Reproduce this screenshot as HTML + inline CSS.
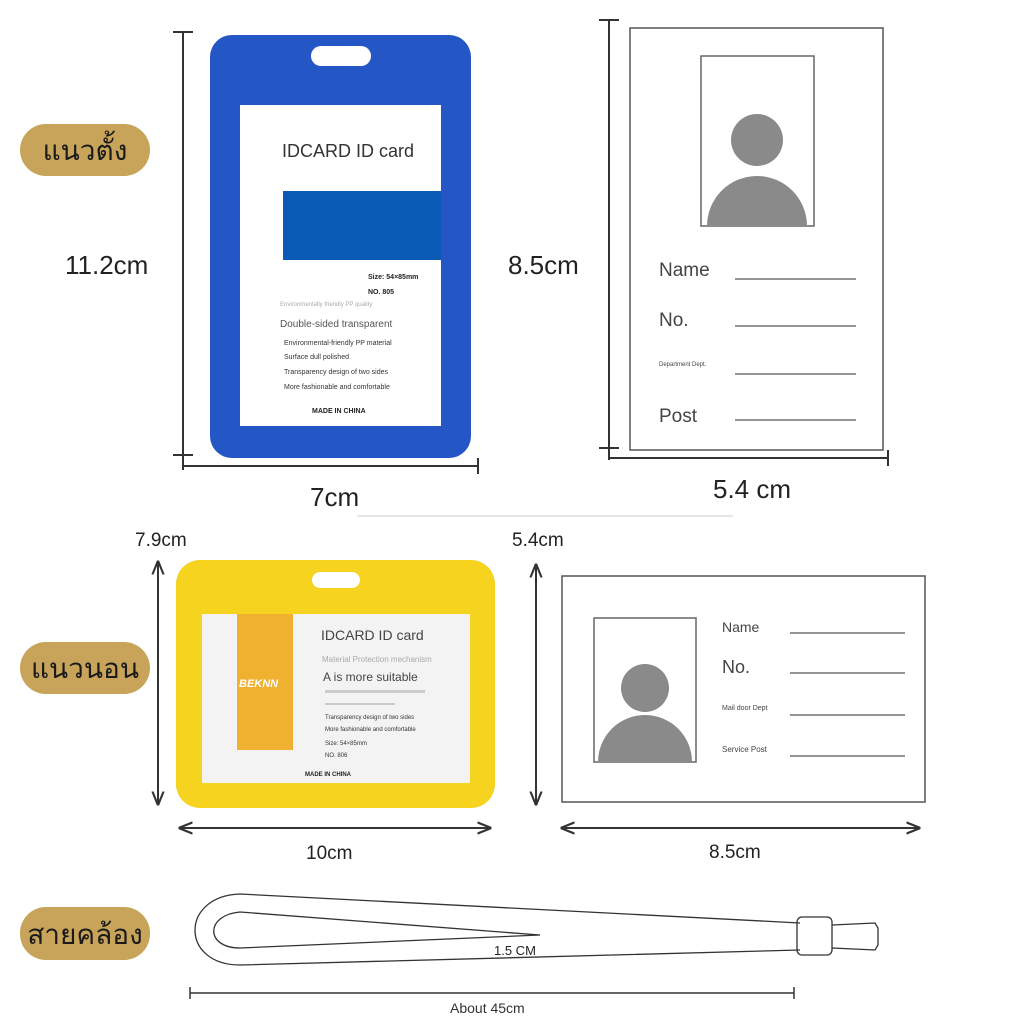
<!DOCTYPE html>
<html><head><meta charset="utf-8"><style>
body{margin:0;background:#fff}
svg text{font-family:"Liberation Sans","Noto Sans CJK SC",sans-serif}
</style></head><body>
<svg width="1024" height="1024" viewBox="0 0 1024 1024" xmlns="http://www.w3.org/2000/svg">
<defs>
<marker id="a" viewBox="0 0 10 10" refX="9" refY="5" markerWidth="7" markerHeight="7" orient="auto-start-reverse"><path d="M0,1 L10,5 L0,9" fill="none" stroke="#333" stroke-width="1.5"/></marker>
</defs>
<rect width="1024" height="1024" fill="#fff"/>
<!-- pills -->
<rect x="20" y="124" width="130" height="52" rx="26" fill="#c8a45a"/>
<text x="85" y="160" font-size="28" text-anchor="middle" fill="#1a1a1a">แนวตั้ง</text>
<rect x="20" y="642" width="130" height="52" rx="26" fill="#c8a45a"/>
<text x="85" y="678" font-size="28" text-anchor="middle" fill="#1a1a1a">แนวนอน</text>
<rect x="20" y="907" width="130" height="53" rx="26" fill="#c8a45a"/>
<text x="85" y="944" font-size="28" text-anchor="middle" fill="#1a1a1a">สายคล้อง</text>

<!-- blue card -->
<g stroke="#333" stroke-width="2" fill="none">
<line x1="183" y1="32" x2="183" y2="470"/><line x1="173" y1="32" x2="193" y2="32"/><line x1="173" y1="455" x2="193" y2="455"/>
<line x1="183" y1="466" x2="478" y2="466"/><line x1="478" y1="458" x2="478" y2="474"/>
<line x1="609" y1="20" x2="609" y2="460"/><line x1="599" y1="20" x2="619" y2="20"/><line x1="599" y1="448" x2="619" y2="448"/>
<line x1="609" y1="458" x2="888" y2="458"/><line x1="888" y1="450" x2="888" y2="466"/>
</g>
<rect x="210" y="35" width="261" height="423" rx="22" fill="#2457c5"/>
<rect x="311" y="46" width="60" height="20" rx="10" fill="#fff"/>
<rect x="240" y="105" width="201" height="321" fill="#fff"/>
<rect x="283" y="191" width="158" height="69" fill="#0a5bb5"/>
<text x="282" y="157" font-size="18" fill="#333">IDCARD ID card</text>
<text x="368" y="279" font-size="7" fill="#222" font-weight="bold">Size: 54×85mm</text>
<text x="368" y="294" font-size="7" fill="#222" font-weight="bold">NO. 805</text>
<text x="280" y="306" font-size="6" fill="#aaa">Environmentally friendly PP quality</text>
<text x="280" y="327" font-size="10" fill="#555">Double-sided transparent</text>
<g font-size="7" fill="#333"><text x="284" y="345">Environmental-friendly PP material</text><text x="284" y="359">Surface dull polished</text><text x="284" y="374">Transparency design of two sides</text><text x="284" y="389">More fashionable and comfortable</text></g>
<text x="312" y="413" font-size="7" font-weight="bold" fill="#222">MADE IN CHINA</text>

<text x="65" y="274" font-size="26" fill="#222">11.2cm</text>
<text x="310" y="506" font-size="26" fill="#222">7cm</text>
<text x="508" y="274" font-size="26" fill="#222">8.5cm</text>
<text x="713" y="498" font-size="26" fill="#222">5.4 cm</text>

<!-- vertical blank card -->
<rect x="630" y="28" width="253" height="422" fill="#fff" stroke="#555" stroke-width="1.5"/>
<rect x="701" y="56" width="113" height="170" fill="#fff" stroke="#666" stroke-width="1.5"/>
<circle cx="757" cy="140" r="26" fill="#8a8a8a"/>
<path d="M707,226 A50,50 0 0 1 807,226 Z" fill="#8a8a8a"/>
<g fill="#444"><text x="659" y="276" font-size="19">Name</text><text x="659" y="326" font-size="19">No.</text><text x="659" y="366" font-size="6">Department Dept.</text><text x="659" y="422" font-size="19">Post</text></g>
<g stroke="#555" stroke-width="1.2"><line x1="735" y1="279" x2="856" y2="279"/><line x1="735" y1="326" x2="856" y2="326"/><line x1="735" y1="374" x2="856" y2="374"/><line x1="735" y1="420" x2="856" y2="420"/></g>
<line x1="357" y1="516" x2="733" y2="516" stroke="#ccc"/>

<!-- yellow card -->
<text x="135" y="546" font-size="19" fill="#222">7.9cm</text>
<line x1="158" y1="562" x2="158" y2="804" stroke="#333" stroke-width="2" marker-start="url(#a)" marker-end="url(#a)"/>
<line x1="180" y1="828" x2="490" y2="828" stroke="#333" stroke-width="2" marker-start="url(#a)" marker-end="url(#a)"/>
<text x="306" y="859" font-size="19" fill="#222">10cm</text>
<rect x="176" y="560" width="319" height="248" rx="24" fill="#f6d31e"/>
<rect x="312" y="572" width="48" height="16" rx="8" fill="#fff"/>
<rect x="202" y="614" width="268" height="169" fill="#f3f3f3"/>
<rect x="237" y="614" width="56" height="136" fill="#f0b030"/>
<text x="239" y="687" font-size="11" font-weight="bold" font-style="italic" fill="#fff">BEKNN</text>
<text x="321" y="640" font-size="14" fill="#444">IDCARD ID card</text>
<text x="322" y="662" font-size="8" fill="#aaa">Material Protection mechanism</text>
<text x="323" y="681" font-size="12" fill="#444">A is more suitable</text>
<rect x="325" y="690" width="100" height="3" fill="#ccc"/><rect x="325" y="703" width="70" height="2" fill="#ccc"/>
<g font-size="6" fill="#333"><text x="325" y="719">Transparency design of two sides</text><text x="325" y="731">More fashionable and comfortable</text><text x="325" y="745">Size: 54×85mm</text><text x="325" y="757">NO. 806</text></g>
<text x="305" y="776" font-size="6" font-weight="bold" fill="#222">MADE IN CHINA</text>

<!-- horizontal blank card -->
<text x="512" y="546" font-size="19" fill="#222">5.4cm</text>
<line x1="536" y1="565" x2="536" y2="804" stroke="#333" stroke-width="2" marker-start="url(#a)" marker-end="url(#a)"/>
<line x1="562" y1="828" x2="919" y2="828" stroke="#333" stroke-width="2" marker-start="url(#a)" marker-end="url(#a)"/>
<text x="709" y="858" font-size="19" fill="#222">8.5cm</text>
<rect x="562" y="576" width="363" height="226" fill="#fff" stroke="#555" stroke-width="1.5"/>
<rect x="594" y="618" width="102" height="144" fill="#fff" stroke="#666" stroke-width="1.5"/>
<circle cx="645" cy="688" r="24" fill="#8a8a8a"/>
<path d="M598,762 A47,47 0 0 1 692,762 Z" fill="#8a8a8a"/>
<g fill="#444"><text x="722" y="632" font-size="14">Name</text><text x="722" y="673" font-size="18">No.</text><text x="722" y="710" font-size="7">Mail door Dept</text><text x="722" y="752" font-size="8">Service Post</text></g>
<g stroke="#555" stroke-width="1.2"><line x1="790" y1="633" x2="905" y2="633"/><line x1="790" y1="673" x2="905" y2="673"/><line x1="790" y1="715" x2="905" y2="715"/><line x1="790" y1="756" x2="905" y2="756"/></g>

<!-- lanyard -->
<g fill="none" stroke="#333" stroke-width="1.3">
<path d="M800,923 L240,894 C180,896 180,965 240,965 L800,950"/>
<path d="M540,935 L240,912 C205,915 205,948 240,948 Z" stroke-linejoin="miter"/>
<rect x="797" y="917" width="35" height="38" rx="5"/>
<path d="M832,925 L875,923 L878,928 L878,945 L875,950 L832,948"/>
</g>
<text x="494" y="955" font-size="13" fill="#222">1.5 CM</text>
<g stroke="#333" stroke-width="1.5"><line x1="190" y1="993" x2="794" y2="993"/><line x1="190" y1="987" x2="190" y2="999"/><line x1="794" y1="987" x2="794" y2="999"/></g>
<text x="450" y="1013" font-size="14" fill="#333">About 45cm</text>
</svg>
</body></html>
